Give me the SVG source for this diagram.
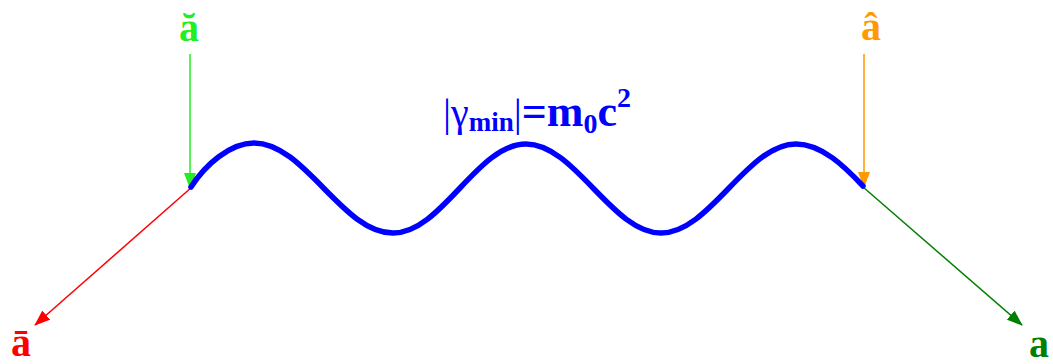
<svg xmlns="http://www.w3.org/2000/svg" width="1053" height="364" viewBox="0 0 1053 364">
<defs>
<style>
.lbl{font-family:"Liberation Serif","Times New Roman",serif;font-weight:bold;font-size:40px;text-anchor:middle}
.f{font-family:"Liberation Serif","Times New Roman",serif;font-weight:bold;fill:#0000ff}
</style>
<marker id="ag" markerWidth="16" markerHeight="12" refX="15" refY="6" orient="auto" markerUnits="userSpaceOnUse" viewBox="0 0 16 12"><path d="M0,0 L16,6 L0,12 z" fill="#22ee22"/></marker>
<marker id="ao" markerWidth="16" markerHeight="12" refX="15" refY="6" orient="auto" markerUnits="userSpaceOnUse" viewBox="0 0 16 12"><path d="M0,0 L16,6 L0,12 z" fill="#ff9900"/></marker>
<marker id="ar" markerWidth="16" markerHeight="12" refX="15" refY="6" orient="auto" markerUnits="userSpaceOnUse" viewBox="0 0 16 12"><path d="M0,0 L16,6 L0,12 z" fill="#ff0000"/></marker>
<marker id="ad" markerWidth="16" markerHeight="12" refX="15" refY="6" orient="auto" markerUnits="userSpaceOnUse" viewBox="0 0 16 12"><path d="M0,0 L16,6 L0,12 z" fill="#007f00"/></marker>
</defs>
<rect width="1053" height="364" fill="#ffffff"/>
<g id="connectors" fill="none">
<line x1="190" y1="54" x2="190" y2="188" stroke="#22ee22" stroke-width="1.5" marker-end="url(#ag)"/>
<line x1="864" y1="54" x2="864" y2="187" stroke="#ff9900" stroke-width="1.5" marker-end="url(#ao)"/>
<line x1="192" y1="187" x2="35" y2="325" stroke="#ff0000" stroke-width="1.5" marker-end="url(#ar)"/>
<line x1="863" y1="187" x2="1022" y2="325" stroke="#007f00" stroke-width="1.5" marker-end="url(#ad)"/>
</g>
<g id="wave">
<path d="M191,187 C205,165 230,143 254,143 C305,143 342,233 393,233 C442,233 477,144 526,144 C575,144 612,233 661,233 C710,233 747,144 796,144 C822,144 845,167 863,186" fill="none" stroke="#0000ff" stroke-width="5.5" stroke-linecap="round"/>
</g>
<g id="formula">
<text class="f" x="443" y="126" font-size="40"><tspan font-weight="normal">|γ</tspan><tspan font-size="27" dy="5">min</tspan><tspan dy="-5" font-weight="normal">|</tspan><tspan font-size="44">=m</tspan><tspan font-size="28" dy="7">0</tspan><tspan font-size="44" dy="-7">c</tspan><tspan font-size="28" dy="-19">2</tspan></text>
</g>
<g id="label-top-left"><text class="lbl" x="189" y="41" fill="#22ee22">ă</text></g>
<g id="label-top-right"><text class="lbl" x="871" y="40" fill="#ff9900">â</text></g>
<g id="label-bottom-left"><text class="lbl" x="21" y="356" fill="#ff0000">ā</text></g>
<g id="label-bottom-right"><text class="lbl" x="1039" y="357" fill="#007f00">a</text></g>
</svg>
